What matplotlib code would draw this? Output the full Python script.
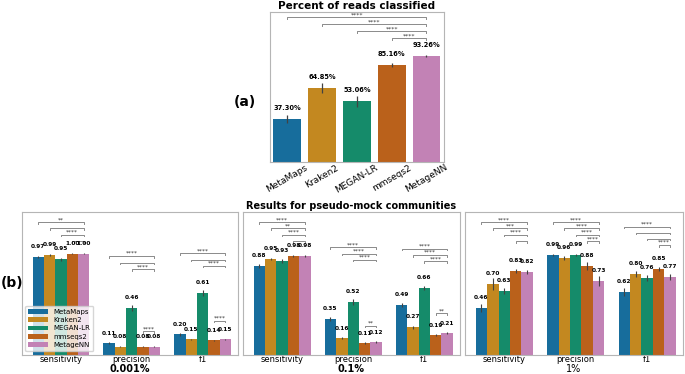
import matplotlib.pyplot as plt
import numpy as np
import seaborn as sns

tools = ["MetaMaps", "Kraken2", "MEGAN-LR", "mmseqs2", "MetageNN"]
metrics = ["sensitivity", "precision", "f1"]
abundances = ["0.001%", "0.1%", "1%"]

# (a) percent of reads classified
reads_pct = [37.30, 64.85, 53.06, 85.16, 93.26]
reads_err = [3.5, 4.5, 4.5, 1.5, 1.0]
reads_stars = ["****", "****", "****", "****"]  # MetaMaps..mmseqs2 vs MetageNN

# (b) pseudo-mock communities, one list per metric (tools in order)
sens_0001 = [0.97, 0.99, 0.95, 1.00, 1.00]
prec_0001 = [0.11, 0.08, 0.46, 0.08, 0.08]
f1_0001 = [0.20, 0.15, 0.61, 0.14, 0.15]
sens_01 = [0.88, 0.95, 0.93, 0.98, 0.98]
prec_01 = [0.35, 0.16, 0.52, 0.11, 0.12]
f1_01 = [0.49, 0.27, 0.66, 0.19, 0.21]
sens_1 = [0.46, 0.70, 0.63, 0.83, 0.82]
prec_1 = [0.99, 0.96, 0.99, 0.88, 0.73]
f1_1 = [0.62, 0.80, 0.76, 0.85, 0.77]

err_0001 = [[0.01, 0.01, 0.015, 0.005, 0.005],
            [0.01, 0.005, 0.03, 0.005, 0.005],
            [0.015, 0.005, 0.03, 0.005, 0.005]]
err_01 = [[0.02, 0.01, 0.02, 0.01, 0.01],
          [0.02, 0.01, 0.03, 0.01, 0.01],
          [0.02, 0.015, 0.02, 0.01, 0.01]]
err_1 = [[0.04, 0.06, 0.03, 0.02, 0.02],
         [0.01, 0.02, 0.01, 0.04, 0.05],
         [0.04, 0.03, 0.03, 0.02, 0.03]]

# stars for MetaMaps, Kraken2, MEGAN-LR, (mmseqs2) vs MetageNN, top bracket first
stars_0001 = [["**", "", "****", ""], ["****", "", "****"], ["****", "", "****"]]
stars_01 = [["****", "**", "****", ""], ["****", "****", "****"], ["****", "****", "****"]]
stars_1 = [["****", "***", "****", ""], ["****", "****", "****", "****"], ["****", "", "", "****"]]
# extra mmseqs2 vs MetageNN bracket sitting just above the bars
small_0001 = [None, "****", "****"]
small_01 = [None, "**", "**"]
small_1 = [None, None, None]

panels = [
    ([sens_0001, prec_0001, f1_0001], err_0001, stars_0001, small_0001,
     [(1.317, 0.063), (0.98, 0.066), (1.007, 0.063)], [None, 0.23, 0.337]),
    ([sens_01, prec_01, f1_01], err_01, stars_01, small_01,
     [(1.317, 0.063), (1.065, 0.062), (1.052, 0.062)], [None, 0.288, 0.41]),
    ([sens_1, prec_1, f1_1], err_1, stars_1, small_1,
     [(1.317, 0.063), (1.317, 0.063), (1.272, 0.061)], [None, None, None]),
]

colors = sns.color_palette("colorblind", 5, desat=0.75)
spine_c = "#b5b5b5"
line_c = "#8a8a8a"
err_c = "#424242"


def bracket(ax, x1, x2, y, h, text, fs):
    ax.plot([x1, x1, x2, x2], [y - h, y, y, y - h], color=line_c, lw=0.7, clip_on=False)
    if text:
        ax.text((x1 + x2) / 2, y, text, ha="center", va="bottom", fontsize=fs,
                color="#333333", clip_on=False)


def frame(ax):
    for s in ax.spines.values():
        s.set_color(spine_c)
        s.set_linewidth(0.8)
    ax.set_yticks([])


fig = plt.figure(figsize=(6.85, 3.74), dpi=100)

# ---- (a) ----
ax = fig.add_axes([0.394, 0.568, 0.254, 0.400])
x = np.arange(len(tools))
ax.bar(x, reads_pct, width=0.8, color=colors)
ax.errorbar(x, reads_pct, yerr=reads_err, fmt="none", ecolor=err_c, elinewidth=0.9)
for xi, v in zip(x, reads_pct):
    ax.annotate(f"{v:.2f}%", (xi, v), xytext=(0, 8), textcoords="offset points",
                ha="center", va="center", fontsize=4.8, fontweight="bold")
for k, s in enumerate(reads_stars):
    bracket(ax, x[k], x[-1], 127.4 - 6.2 * k, 1.5, s, 4.5)
ax.set_xlim(-0.5, 4.5)
ax.set_ylim(0, 132)
ax.set_xticks(x)
ax.set_xticklabels(tools, rotation=30, ha="center", fontsize=6.5)
ax.tick_params(axis="x", length=0, pad=1)
frame(ax)
ax.set_title("Percent of reads classified", fontsize=7.5, fontweight="bold", pad=2)
fig.text(0.358, 0.727, "(a)", fontsize=10, fontweight="bold", ha="center", va="center")

# ---- (b) ----
lefts = [0.0321, 0.3547, 0.6788]
widths = [0.3153, 0.3168, 0.318]
w = 0.8 / len(tools)
for p, (vals, errs, stars, small, tops, smally) in enumerate(panels):
    ax = fig.add_axes([lefts[p], 0.052, widths[p], 0.381])
    for t in range(len(tools)):
        xs = np.arange(len(metrics)) - 0.4 + w * (t + 0.5)
        ys = [vals[m][t] for m in range(len(metrics))]
        es = [errs[m][t] for m in range(len(metrics))]
        ax.bar(xs, ys, width=w, color=colors[t], label=tools[t])
        ax.errorbar(xs, ys, yerr=es, fmt="none", ecolor=err_c, elinewidth=0.8)
        for xi, v in zip(xs, ys):
            ax.annotate(f"{v:.2f}", (xi, v), xytext=(0, 7.5), textcoords="offset points",
                        ha="center", va="center", fontsize=4.2, fontweight="bold")
    for m in range(len(metrics)):
        pos = m - 0.4 + w * (np.arange(len(tools)) + 0.5)
        top, step = tops[m]
        for k, s in enumerate(stars[m]):
            bracket(ax, pos[k], pos[-1], top - step * k, 0.015, s, 4.2)
        if small[m]:
            bracket(ax, pos[3], pos[4], smally[m], 0.015, small[m], 4.2)
    ax.set_xlim(-0.55, 2.5)
    ax.set_ylim(0, 1.417)
    ax.set_xticks(range(len(metrics)))
    ax.set_xticklabels(metrics, fontsize=6)
    ax.tick_params(axis="x", length=0, pad=0.5)
    ax.set_xlabel(abundances[p], fontsize=7, fontweight="bold" if p < 2 else "normal",
                  labelpad=0)
    frame(ax)
    if p == 0:
        ax.legend(loc="lower left", fontsize=5, framealpha=0.8, handlelength=2.8,
                  borderpad=0.4, labelspacing=0.35, edgecolor="#cccccc")
    if p == 1:
        ax.set_title("Results for pseudo-mock communities", fontsize=7,
                     fontweight="bold", pad=2)

fig.text(0.0175, 0.243, "(b)", fontsize=10, fontweight="bold", ha="center", va="center")

fig.savefig("out.png", dpi=100)
